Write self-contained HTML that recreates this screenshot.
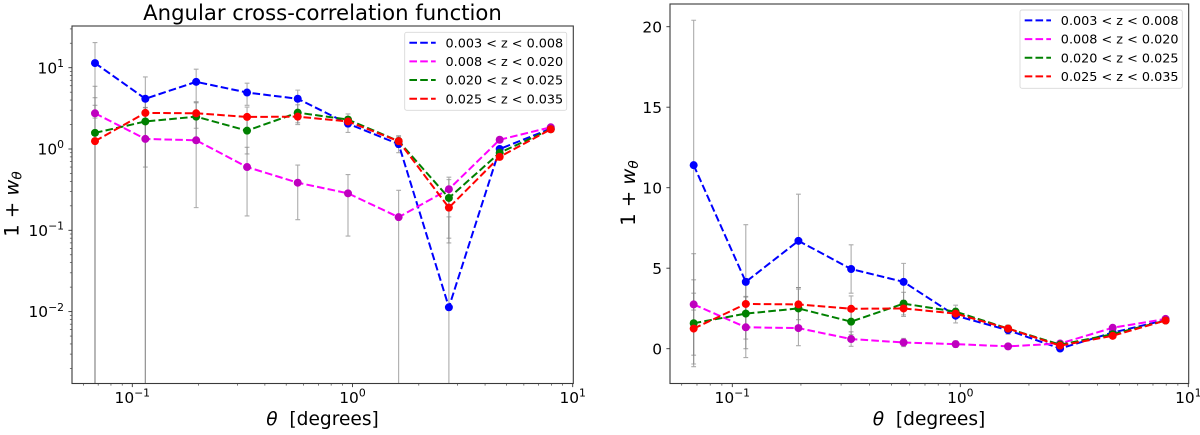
<!DOCTYPE html>
<html>
<head>
<meta charset="utf-8">
<title>Angular cross-correlation function</title>
<style>
html,body{margin:0;padding:0;background:#fff;width:1200px;height:435px;overflow:hidden}
svg{display:block;font-family:"DejaVu Sans","Liberation Sans",sans-serif;filter:blur(0.3px)}
</style>
</head>
<body>
<svg id="figure" xmlns="http://www.w3.org/2000/svg" width="1200" height="435" viewBox="0 0 1200 435">
  <defs>
    <clipPath id="clip-left"><rect x="72" y="26" width="501.3" height="357.5"/></clipPath>
    <clipPath id="clip-right"><rect x="670" y="4" width="518.7" height="379.5"/></clipPath>
  </defs>
  <text x="322.5" y="20" font-size="21.2" text-anchor="middle" fill="#000">Angular cross-correlation function</text>
  <text x="322.5" y="425" font-size="18.6" text-anchor="middle" fill="#000"><tspan font-style="italic">θ</tspan> &#160;[degrees]</text>
  <text x="929" y="425" font-size="18.6" text-anchor="middle" fill="#000"><tspan font-style="italic">θ</tspan> &#160;[degrees]</text>
  <text transform="translate(18.5,204) rotate(-90)" font-size="19.5" text-anchor="middle" fill="#000">1 + <tspan font-style="italic">w</tspan><tspan font-style="italic" font-size="13.6" dy="3">θ</tspan></text>
  <text transform="translate(635,193) rotate(-90)" font-size="19.5" text-anchor="middle" fill="#000">1 + <tspan font-style="italic">w</tspan><tspan font-style="italic" font-size="13.6" dy="3">θ</tspan></text>
</svg>
<script>
const thetaValues = [0.0677, 0.1146, 0.195, 0.332, 0.564, 0.954, 1.62, 2.74, 4.66, 7.95];
const seriesNames = ["0.003 < z < 0.008", "0.008 < z < 0.020", "0.020 < z < 0.025", "0.025 < z < 0.035"];
const blueValues = [11.4, 4.15, 6.7, 4.95, 4.15, 2.05, 1.15, 0.0113, 1.0, 1.78];
const blueErrors = [9.0, 3.55, 2.9, 1.5, 1.15, 0.45, 0.25, 0.135, 0.03, 0.03];
const magentaValues = [2.75, 1.33, 1.28, 0.6, 0.385, 0.285, 0.145, 0.32, 1.3, 1.85];
const magentaErrors = [3.15, 1.88, 1.09, 0.45, 0.25, 0.2, 0.165, 0.13, 0.03, 0.03];
const greenValues = [1.58, 2.18, 2.5, 1.68, 2.8, 2.3, 1.25, 0.25, 0.9, 1.75];
const greenErrors = [2.7, 2.18, 1.3, 0.81, 0.7, 0.4, 0.2, 0.17, 0.03, 0.03];
const redValues = [1.25, 2.78, 2.75, 2.48, 2.5, 2.18, 1.25, 0.19, 0.8, 1.75];
const redErrors = [2.2, 0.47, 0.95, 0.8, 0.5, 0.3, 0.2, 0.12, 0.03, 0.03];
const logDecades = [-1, 0, 1];
const logYDecades = [-2, -1, 0, 1];
const linearYTicks = [0, 5, 10, 15, 20];

const SVG_NS = "http://www.w3.org/2000/svg";
const root = document.getElementById("figure");
const seriesList = [
  {key: "blue", line: "#0000ff", dot: "#0000ff", values: blueValues, errors: blueErrors},
  {key: "magenta", line: "#ff00ff", dot: "#bf00bf", values: magentaValues, errors: magentaErrors},
  {key: "green", line: "#008000", dot: "#008000", values: greenValues, errors: greenErrors},
  {key: "red", line: "#ff0000", dot: "#ff0000", values: redValues, errors: redErrors}
];

function mk(parent, tag, attrs) {
  const el = document.createElementNS(SVG_NS, tag);
  for (const k in attrs) el.setAttribute(k, attrs[k]);
  parent.appendChild(el);
  return el;
}

function logAxis(pxAtZero, pxPerDecade) {
  return function (v) { return pxAtZero + Math.log10(v) * pxPerDecade; };
}

function powerLabel(parent, x, y, exponent, anchor) {
  const t = mk(parent, "text", {x: x, y: y, "font-size": 15.4, "text-anchor": anchor, fill: "#000"});
  
  
  const base = mk(t, "tspan", {});
  base.textContent = "10";
  const sup = mk(t, "tspan", {"font-size": 10.8, dy: -6.4});
  sup.textContent = String(exponent).replace("-", "\u2212");
}

function drawPanel(cfg) {
  const g = mk(root, "g", {});
  
  
  const box = cfg.box;
  const sx = cfg.sx;
  const sy = cfg.sy;

  const marks = mk(g, "g", {"clip-path": "url(#" + cfg.clip + ")"});
  
  

  // error bars
  seriesList.forEach(function (s) {
    s.values.forEach(function (v, i) {
      const x = sx(thetaValues[i]);
      const y1 = sy(v + s.errors[i]);
      const y2 = sy(v - s.errors[i]);
      const bar = mk(marks, "path", {
        d: "M" + x + " " + y1 + "V" + y2 + "M" + (x - 2.4) + " " + y1 + "h4.8M" + (x - 2.4) + " " + y2 + "h4.8",
        stroke: "#808080", "stroke-width": 1.1, "stroke-opacity": 0.65, fill: "none"
      });
      
      
    });
  });

  // series lines and markers
  seriesList.forEach(function (s) {
    const pts = s.values.map(function (v, i) { return sx(thetaValues[i]) + "," + sy(v); }).join(" ");
    const line = mk(marks, "polyline", {
      points: pts, fill: "none", stroke: s.line, "stroke-width": 2, "stroke-dasharray": "7.6 3.2"
    });
    
    
    s.values.forEach(function (v, i) {
      const dot = mk(marks, "circle", {cx: sx(thetaValues[i]), cy: sy(v), r: 4, fill: s.dot});
      
      
    });
  });

  // frame
  const frame = mk(g, "rect", {x: box.l, y: box.t, width: box.r - box.l, height: box.b - box.t, fill: "none", stroke: "#3a3a3a", "stroke-width": 1.1});
  
  

  // x ticks
  logDecades.forEach(function (d) {
    const x = sx(Math.pow(10, d));
    const tick = mk(g, "line", {x1: x, x2: x, y1: box.b, y2: box.b + 3.6, stroke: "#333", "stroke-width": 0.9});
    
    
    powerLabel(g, x, 403, d, "middle");
  });
  [-2, -1, 0].forEach(function (d) {
    for (let m = 2; m <= 9; m++) {
      const x = sx(m * Math.pow(10, d));
      if (x < box.l) continue;
      const tick = mk(g, "line", {x1: x, x2: x, y1: box.b, y2: box.b + 2.1, stroke: "#444", "stroke-width": 0.7});
      
      
    }
  });

  cfg.yTicks(g, box, sy);

  // legend
  const lg = cfg.legend;
  const legend = mk(g, "g", {});
  
  
  const legendBox = mk(legend, "rect", {x: lg.x, y: lg.y, width: lg.w, height: lg.h, rx: 2, fill: "#fff", "fill-opacity": 0.8, stroke: "#d9d9d9", "stroke-width": 0.9});
  
  
  seriesList.forEach(function (s, i) {
    const cy = lg.y + 10.4 + i * 18.67;
    const handle = mk(legend, "line", {x1: lg.x + 4.7, x2: lg.x + 31, y1: cy, y2: cy, stroke: s.line, "stroke-width": 2, "stroke-dasharray": "7.6 3.2"});
    
    
    const label = mk(legend, "text", {x: lg.x + 40.8, y: cy + 4.6, "font-size": 12.8, fill: "#000"});
    
    
    label.textContent = seriesNames[i];
  });
}

const leftBox = {l: 72, r: 573.3, t: 26, b: 383.5};
const rightBox = {l: 670, r: 1188.7, t: 4, b: 383.5};
const leftLogY = logAxis(149, -81.3);

drawPanel({
  name: "left-log-panel",
  clip: "clip-left",
  box: leftBox,
  sx: logAxis(352.5, 220.2),
  sy: function (v) { return v <= 0 ? leftBox.b + 50 : leftLogY(v); },
  legend: {x: 404.7, y: 32.3, w: 162, h: 78},
  yTicks: function (g, box, sy) {
    logYDecades.forEach(function (d) {
      const y = sy(Math.pow(10, d));
      const tick = mk(g, "line", {x1: box.l - 3.6, x2: box.l, y1: y, y2: y, stroke: "#333", "stroke-width": 0.9});
      
      
      powerLabel(g, box.l - 8, y + 5.6, d, "end");
    });
    [-3, -2, -1, 0, 1].forEach(function (d) {
      for (let m = 2; m <= 9; m++) {
        const y = sy(m * Math.pow(10, d));
        if (y < box.t || y > box.b) continue;
        const tick = mk(g, "line", {x1: box.l - 2.1, x2: box.l, y1: y, y2: y, stroke: "#444", "stroke-width": 0.7});
        
        
      }
    });
  }
});

drawPanel({
  name: "right-linear-panel",
  clip: "clip-right",
  box: rightBox,
  sx: logAxis(960.3, 228),
  sy: function (v) { return 348.7 - v * 16.1; },
  legend: {x: 1020, y: 10, w: 162.3, h: 78.3},
  yTicks: function (g, box, sy) {
    linearYTicks.forEach(function (v) {
      const y = sy(v);
      const tick = mk(g, "line", {x1: box.l - 3.6, x2: box.l, y1: y, y2: y, stroke: "#333", "stroke-width": 0.9});
      
      
      const label = mk(g, "text", {x: box.l - 8, y: y + 5.6, "font-size": 15.4, "text-anchor": "end", fill: "#000"});
      
      
      label.textContent = String(v);
    });
  }
});
</script>
</body>
</html>
